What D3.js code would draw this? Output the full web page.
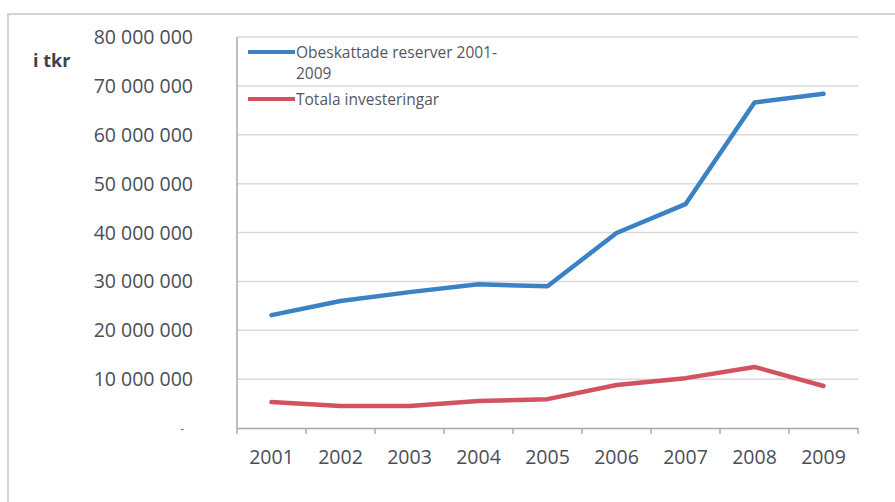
<!DOCTYPE html>
<html>
<head>
<meta charset="utf-8">
<script src="https://cdn.jsdelivr.net/npm/d3@7"></script>
<style>
  html, body { margin: 0; padding: 0; background: #fff; }
  svg { display: block; }
  text { font-family: "Open Sans", sans-serif; fill: #4b4d58; }
</style>
</head>
<body>
<svg id="chart" width="895" height="502"></svg>
<script>
// Years on the category axis
const years = ["2001", "2002", "2003", "2004", "2005", "2006", "2007", "2008", "2009"];
// Untaxed reserves, tkr
const obeskattade = [23100000, 26000000, 27800000, 29400000, 29000000, 39900000, 45800000, 66600000, 68400000];
// Total investments, tkr
const investeringar = [5300000, 4500000, 4500000, 5500000, 5900000, 8800000, 10200000, 12500000, 8600000];
// Value axis ticks
const yTicks = [0, 10000000, 20000000, 30000000, 40000000, 50000000, 60000000, 70000000, 80000000];
const seriesNames = ["Obeskattade reserver 2001-\n2009", "Totala investeringar"];
const seriesColors = ["#3a82c4", "#d2535f"];

const svg = d3.select("#chart");

// Outer chart frame
svg.append("path")
  .attr("d", "M8,502 L8,14 L895,14")
  .attr("fill", "none")
  .attr("stroke", "#d4d4d8")
  .attr("stroke-width", 2);

const x = d3.scaleBand().domain(years).range([237, 858]);
const y = d3.scaleLinear().domain([0, 80000000]).range([428, 37]);

// Horizontal gridlines
svg.append("g")
  .selectAll("line")
  .data(yTicks.filter(d => d > 0))
  .join("line")
  .attr("x1", 237).attr("x2", 858)
  .attr("y1", d => y(d)).attr("y2", d => y(d))
  .attr("stroke", "#d9d9dd")
  .attr("stroke-width", 1.5);

// Value axis labels (space-grouped thousands, zero shown as a dash)
const fmt = d => d === 0 ? "-" : d3.format(",")(d).replace(/,/g, " ");
svg.append("g")
  .selectAll("text")
  .data(yTicks)
  .join("text")
  .attr("x", d => d === 0 ? 184 : 193)
  .attr("y", d => y(d))
  .attr("dy", "0.36em")
  .attr("text-anchor", "end")
  .style("font-size", d => d === 0 ? "11px" : "19.5px")
  .text(fmt);

// Unit label
svg.append("text")
  .attr("x", 33).attr("y", 67)
  .style("font-size", "18px")
  .style("font-weight", "bold")
  .style("fill", "#3f414c")
  .text("i tkr");

// Axis lines
svg.append("line")
  .attr("x1", 237).attr("x2", 237).attr("y1", 37).attr("y2", 428)
  .attr("stroke", "#a8a8b0").attr("stroke-width", 1.5);

const xAxis = d3.axisBottom(x).tickSize(0).tickPadding(22);
const gx = svg.append("g").attr("transform", "translate(0,428)").call(xAxis);
gx.select(".domain").attr("stroke", "#a8a8b0").attr("stroke-width", 1.5);
gx.selectAll("text")
  .style("font-size", "19.5px")
  .style("font-family", "'Open Sans', sans-serif")
  .attr("fill", "#4b4d58");

// Tick marks between categories
svg.append("g")
  .selectAll("line")
  .data(years.map(d => x(d)).concat([x.range()[1]]))
  .join("line")
  .attr("x1", d => d).attr("x2", d => d)
  .attr("y1", 428).attr("y2", 434)
  .attr("stroke", "#a8a8b0").attr("stroke-width", 1.5);

// Series lines
const line = d3.line()
  .x((d, i) => x(years[i]) + x.bandwidth() / 2)
  .y(d => y(d));

[obeskattade, investeringar].forEach((vals, k) => {
  svg.append("path")
    .datum(vals)
    .attr("d", line)
    .attr("fill", "none")
    .attr("stroke", seriesColors[k])
    .attr("stroke-width", 4.5)
    .attr("stroke-linejoin", "round")
    .attr("stroke-linecap", "round");
});

// Legend
const legendRows = [
  { y: 52, name: seriesNames[0], color: seriesColors[0] },
  { y: 99, name: seriesNames[1], color: seriesColors[1] }
];
const lg = svg.append("g");
legendRows.forEach(r => {
  lg.append("line")
    .attr("x1", 248).attr("x2", 295)
    .attr("y1", r.y).attr("y2", r.y)
    .attr("stroke", r.color).attr("stroke-width", 4);
  const t = lg.append("text")
    .attr("x", 296).attr("y", r.y)
    .style("font-size", "15.5px")
    .style("fill", "#55575f");
  r.name.split("\n").forEach((s, i) => {
    t.append("tspan")
      .attr("x", 296)
      .attr("dy", i === 0 ? "0.36em" : "21px")
      .text(s);
  });
});
</script>
</body>
</html>
